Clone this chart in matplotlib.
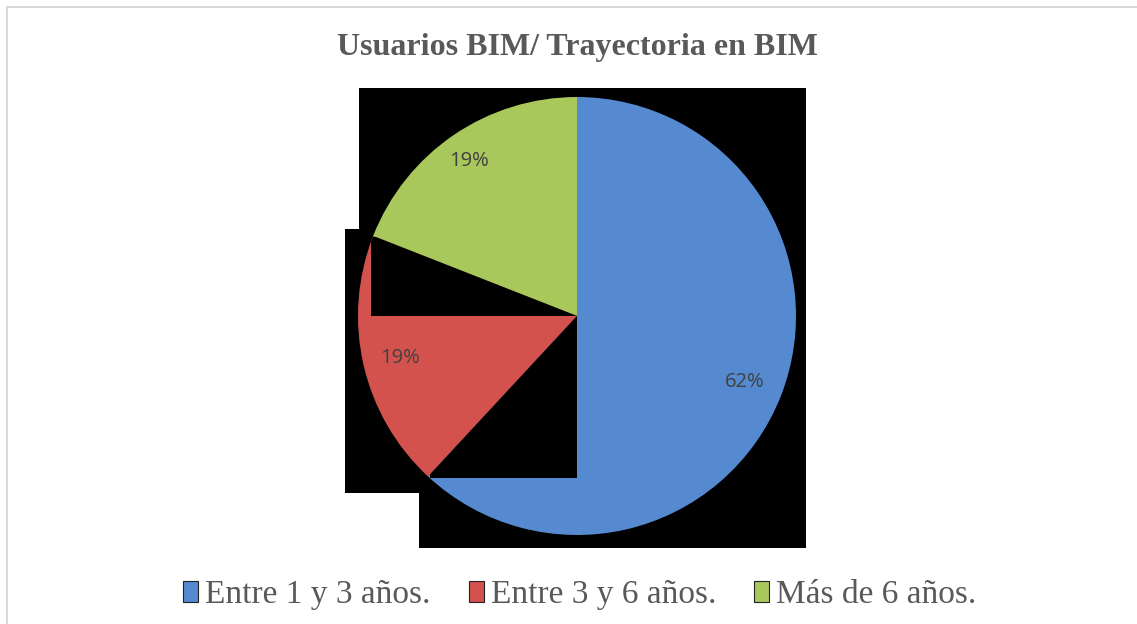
import matplotlib
matplotlib.use("Agg")
import matplotlib.pyplot as plt
from matplotlib.patches import Rectangle
from matplotlib.lines import Line2D

# data
categories = ["Entre 1 y 3 años.", "Entre 3 y 6 años.", "Más de 6 años."]
counts = [13, 4, 4]
colors = ["#558ad0", "#d4524d", "#a9c85c"]

W, H = 1137, 624
fig = plt.figure(figsize=(W / 100, H / 100), dpi=100)
fig.patch.set_facecolor("white")

# pie axes: centre (577, 316), radius 219 px
cx, cy, R = 577, 316, 219
ax = fig.add_axes([(cx - R) / W, 1 - (cy + R) / H, 2 * R / W, 2 * R / H])


def px(x, y):
    # pixel -> pie data coords
    return (x - cx) / R, (cy - y) / R


wedges, texts, autotexts = ax.pie(
    counts, colors=colors, startangle=90, counterclock=False, radius=1,
    autopct=lambda p: f"{p:.0f}%", pctdistance=0.82,
    wedgeprops=dict(edgecolor="none", linewidth=0),
    textprops=dict(family="Open Sans", fontsize=14.5, color="#404040"),
)
ax.set_xlim(-1, 1)
ax.set_ylim(-1, 1)
ax.set_aspect("equal")
ax.axis("off")

# black background blocks (transparent areas of the original image)
black_blocks = [((359, 88), (806, 493)), ((419, 88), (806, 548)), ((345, 229), (359, 493))]
for (x0, y0), (x1, y1) in black_blocks:
    ax.add_patch(Rectangle(px(x0, y1), (x1 - x0) / R, (y1 - y0) / R, facecolor="black",
                           edgecolor="none", zorder=0, clip_on=False))

for w in wedges:
    w.set_zorder(1)
    w.set_clip_on(False)

# label placement as in the original
autotexts[0].set_position(px(745, 382))
autotexts[1].set_position(px(400, 358))
autotexts[2].set_position(px(469, 161))
for t in autotexts:
    t.set_zorder(5)

# black cut-outs over the pie
cut_red = Rectangle(px(371, 316), (577 - 371) / R, (316 - 237) / R,
                    facecolor="black", edgecolor="none", zorder=2)
ax.add_patch(cut_red)
cut_red.set_clip_path(wedges[1])
cut_blue = Rectangle(px(430, 478), (577 - 430) / R, (478 - 316) / R,
                     facecolor="black", edgecolor="none", zorder=2)
ax.add_patch(cut_blue)
cut_blue.set_clip_path(wedges[0])

# title
fig.text(577 / W, 1 - 48 / H, "Usuarios BIM/ Trayectoria en BIM", ha="center", va="center",
         family="Liberation Serif", fontweight="bold", fontsize=23, color="#595959")

# legend
handles = [Rectangle((0, 0), 1, 1, facecolor=c, edgecolor="#222222", linewidth=0.8)
           for c in colors]
fig.legend(handles, categories, loc="center", bbox_to_anchor=(580 / W, 1 - 595 / H),
           ncol=3, frameon=False, handlelength=0.45, handleheight=0.6,
           handletextpad=0.2, columnspacing=1.15,
           prop=dict(family="Liberation Serif", size=24), labelcolor="#595959")

# thin frame on top and left edges
fig.add_artist(Line2D([6.5 / W, 6.5 / W], [0, 1 - 6.5 / H], color="#d9d9d9", lw=1.5))
fig.add_artist(Line2D([6.5 / W, 1], [1 - 6.5 / H, 1 - 6.5 / H], color="#d9d9d9", lw=1.5))

fig.savefig("out.png", dpi=100)
